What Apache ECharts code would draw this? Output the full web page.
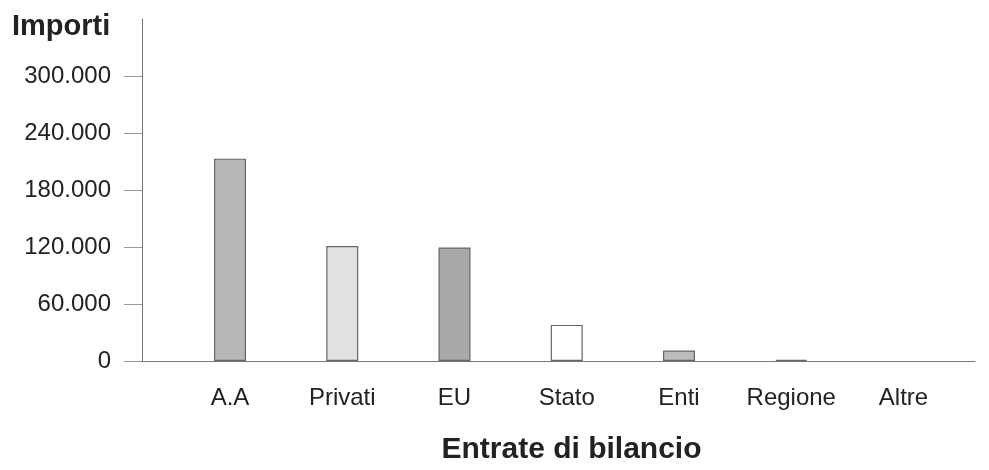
<!DOCTYPE html>
<html><head><meta charset="utf-8">
<script src="https://cdn.jsdelivr.net/npm/echarts@6/dist/echarts.min.js"></script>
<style>html,body{margin:0;padding:0;background:#fff}#c{width:989px;height:470px}</style>
</head><body><div id="c"></div>
<script>
const categories = ['A.A','Privati','EU','Stato','Enti','Regione','Altre'];
const values = [213000, 121000, 119500, 38000, 11000, 1200, 0];
const barColors = ['#b8b8b8','#e2e2e2','#a9a9a9','#ffffff','#bdbdbd','#c4c4c4','#d0d0d0'];
const yTicks = [0, 60000, 120000, 180000, 240000, 300000];

const font = 'Liberation Sans, Arial, sans-serif';
const chart = echarts.init(document.getElementById('c'), null, {renderer:'canvas'});
chart.setOption({
  animation:false,
  grid:{left:142, right:14, top:19, bottom:107, containLabel:false},
  title:{text:'Importi', left:7, top:7, textStyle:{fontFamily:font, fontSize:29, fontWeight:'bold', color:'#222'}},
  xAxis:{
    type:'value', min:-0.784, max:6.637,
    name:'Entrate di bilancio', nameLocation:'middle', nameGap:74,
    nameTextStyle:{fontFamily:font, fontSize:30, fontWeight:'bold', color:'#222', padding:[0,0,0,26]},
    axisLine:{show:true, onZero:false, lineStyle:{color:'#777', width:1}},
    axisTick:{show:false},
    splitLine:{show:false},
    axisLabel:{customValues:[0,1,2,3,4,5,6], margin:25, fontFamily:font, fontSize:24, color:'#222',
      formatter:v=>categories[Math.round(v)]}
  },
  yAxis:{
    type:'value', min:0, max:360000, interval:60000,
    axisLine:{show:true, onZero:false, lineStyle:{color:'#777'}},
    axisTick:{show:true, length:18, lineStyle:{color:'#999'}},
    splitLine:{show:false},
    axisLabel:{showMaxLabel:false, margin:31, fontFamily:font, fontSize:24, color:'#222',
      formatter:v=> yTicks.indexOf(v)>=0 ? (v===0?'0':v.toLocaleString('de-DE')) : ''}
  },
  series:[{
    type:'bar', barWidth:32,
    data: values.map((v,i)=>({value:[i,v], itemStyle:{color:barColors[i], borderColor:'#666', borderWidth: v>0 ? 1.2 : 0}}))
  }]
});
</script></body></html>
